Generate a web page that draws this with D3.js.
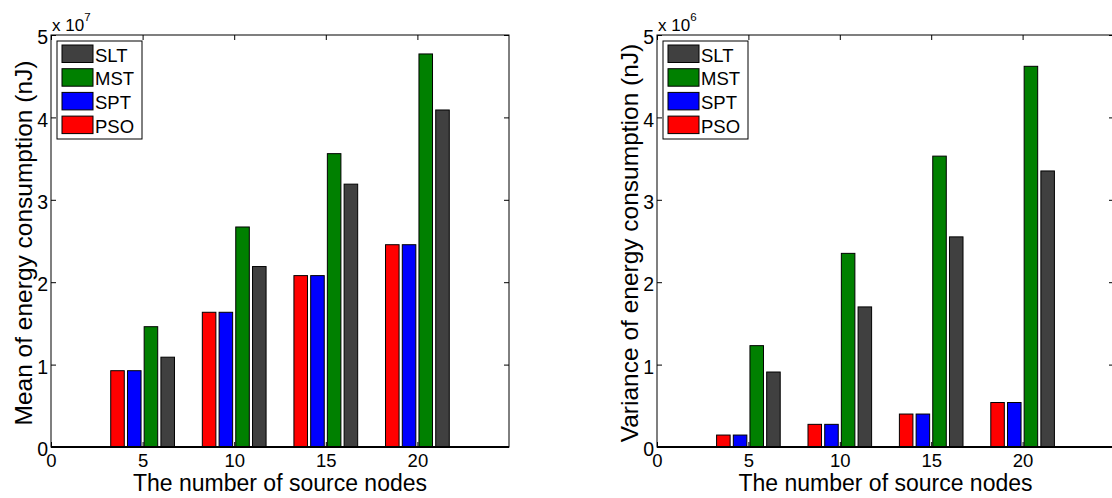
<!DOCTYPE html>
<html>
<head>
<meta charset="utf-8">
<script src="https://cdn.jsdelivr.net/npm/d3@7"></script>
<style>
  html, body { margin: 0; padding: 0; background: #fff; }
  svg { display: block; font-family: "Liberation Sans", Arial, Helvetica, sans-serif; }
</style>
</head>
<body>
<svg id="chart" width="1112" height="498"></svg>
<script>
// Number of source nodes (x categories)
const categories = [5, 10, 15, 20];

// Series, in drawing order within each group
const seriesNames = ["PSO", "SPT", "MST", "SLT"];
const seriesColors = ["#ff0000", "#0000ff", "#008000", "#404040"];

// Mean of energy consumption, in units of 1e7 nJ
const meanPSO = [0.926, 1.635, 2.08, 2.455];
const meanSPT = [0.926, 1.635, 2.08, 2.455];
const meanMST = [1.46, 2.67, 3.56, 4.77];
const meanSLT = [1.09, 2.19, 3.19, 4.09];

// Variance of energy consumption, in units of 1e6 nJ
const varPSO = [0.145, 0.275, 0.40, 0.54];
const varSPT = [0.145, 0.275, 0.40, 0.54];
const varMST = [1.23, 2.35, 3.53, 4.62];
const varSLT = [0.91, 1.70, 2.55, 3.35];

const xTicks = [0, 5, 10, 15, 20];
const yTicks = [0, 1, 2, 3, 4, 5];

const svg = d3.select("#chart");

function drawPanel(opts) {
  const { left, right, top, bottom, series, exponent, yTitle } = opts;
  const g = svg.append("g");

  const x = d3.scaleLinear().domain([0, 25]).range([left, right]);
  const y = d3.scaleLinear().domain([0, 5]).range([bottom, top]);

  // Offsets of the four bars around each category (data units) and bar width
  const offsets = [-1.37, -0.455, 0.455, 1.37];
  const barW = x(0.74) - x(0);

  // Bars
  series.forEach((vals, si) => {
    g.selectAll(null)
      .data(categories.map((c, i) => ({ c, v: vals[i] })))
      .enter()
      .append("rect")
      .attr("x", d => x(d.c + offsets[si]) - barW / 2)
      .attr("y", d => y(d.v))
      .attr("width", barW)
      .attr("height", d => y(0) - y(d.v))
      .attr("fill", seriesColors[si])
      .attr("stroke", "#000")
      .attr("stroke-width", 1);
  });

  // Baseline
  g.append("line")
    .attr("x1", left).attr("x2", right)
    .attr("y1", y(0)).attr("y2", y(0))
    .attr("stroke", "#000").attr("stroke-width", 2);

  // Box
  g.append("rect")
    .attr("x", left).attr("y", top)
    .attr("width", right - left).attr("height", bottom - top)
    .attr("fill", "none").attr("stroke", "#000").attr("stroke-width", 1);

  const tickLen = 5;
  const fmt = d3.format("d");
  // Axes with inward ticks on all four sides
  const gb = g.append("g").attr("transform", `translate(0,${bottom})`)
    .call(d3.axisBottom(x).tickValues(xTicks).tickSize(tickLen).tickFormat(fmt));
  gb.select(".domain").remove();
  gb.selectAll(".tick line").attr("y2", -tickLen);
  gb.selectAll(".tick text").attr("y", 19.5).attr("dy", null)
    .style("font-size", "18.5px").attr("fill", "#000");

  const gt = g.append("g").attr("transform", `translate(0,${top})`)
    .call(d3.axisTop(x).tickValues(xTicks).tickSize(-tickLen).tickFormat(""));
  gt.select(".domain").remove();

  const gl = g.append("g").attr("transform", `translate(${left},0)`)
    .call(d3.axisLeft(y).tickValues(yTicks).tickSize(-tickLen).tickFormat(fmt));
  gl.select(".domain").remove();
  gl.selectAll(".tick text").attr("x", -3).attr("dy", "0.45em")
    .style("font-size", "19.5px").attr("fill", "#000");

  const gr = g.append("g").attr("transform", `translate(${right},0)`)
    .call(d3.axisRight(y).tickValues(yTicks).tickSize(-tickLen).tickFormat(""));
  gr.select(".domain").remove();

  g.selectAll(".tick line").attr("stroke", "#000");

  // Exponent label
  const ex = g.append("text")
    .attr("x", left + 1).attr("y", 30.5)
    .style("font-size", "17px").attr("fill", "#000");
  ex.append("tspan").text("x 10");
  ex.append("tspan").attr("dy", -10).style("font-size", "11.5px").text(exponent);

  // Axis titles
  g.append("text")
    .attr("x", x(12.5)).attr("y", 491)
    .attr("text-anchor", "middle")
    .style("font-size", "23px").attr("fill", "#000")
    .text("The number of source nodes");

  g.append("text")
    .attr("transform", `translate(${left - 19},${(top + bottom) / 2 + 2}) rotate(-90)`)
    .attr("text-anchor", "middle")
    .style("font-size", "24.5px").attr("fill", "#000")
    .text(yTitle);

  // Legend (reverse order, as stacked in the box)
  const lg = g.append("g").attr("transform", `translate(${left + 6},${top + 6})`);
  lg.append("rect")
    .attr("x", 0).attr("y", 0).attr("width", 85).attr("height", 98)
    .attr("fill", "#fff").attr("stroke", "#000").attr("stroke-width", 1);
  const order = [3, 2, 1, 0];
  order.forEach((si, k) => {
    const ry = 4 + k * 23.7;
    lg.append("rect")
      .attr("x", 5).attr("y", ry).attr("width", 31).attr("height", 17.5)
      .attr("fill", seriesColors[si]).attr("stroke", "#000").attr("stroke-width", 1);
    lg.append("text")
      .attr("x", 38).attr("y", ry + 16.5)
      .style("font-size", "18.5px").attr("fill", "#000")
      .text(seriesNames[si]);
  });
}

drawPanel({
  left: 51, right: 509, top: 35, bottom: 447,
  series: [meanPSO, meanSPT, meanMST, meanSLT],
  exponent: "7",
  yTitle: "Mean of energy consumption (nJ)"
});

drawPanel({
  left: 657, right: 1114, top: 35, bottom: 447,
  series: [varPSO, varSPT, varMST, varSLT],
  exponent: "6",
  yTitle: "Variance of energy consumption (nJ)"
});
</script>
</body>
</html>
